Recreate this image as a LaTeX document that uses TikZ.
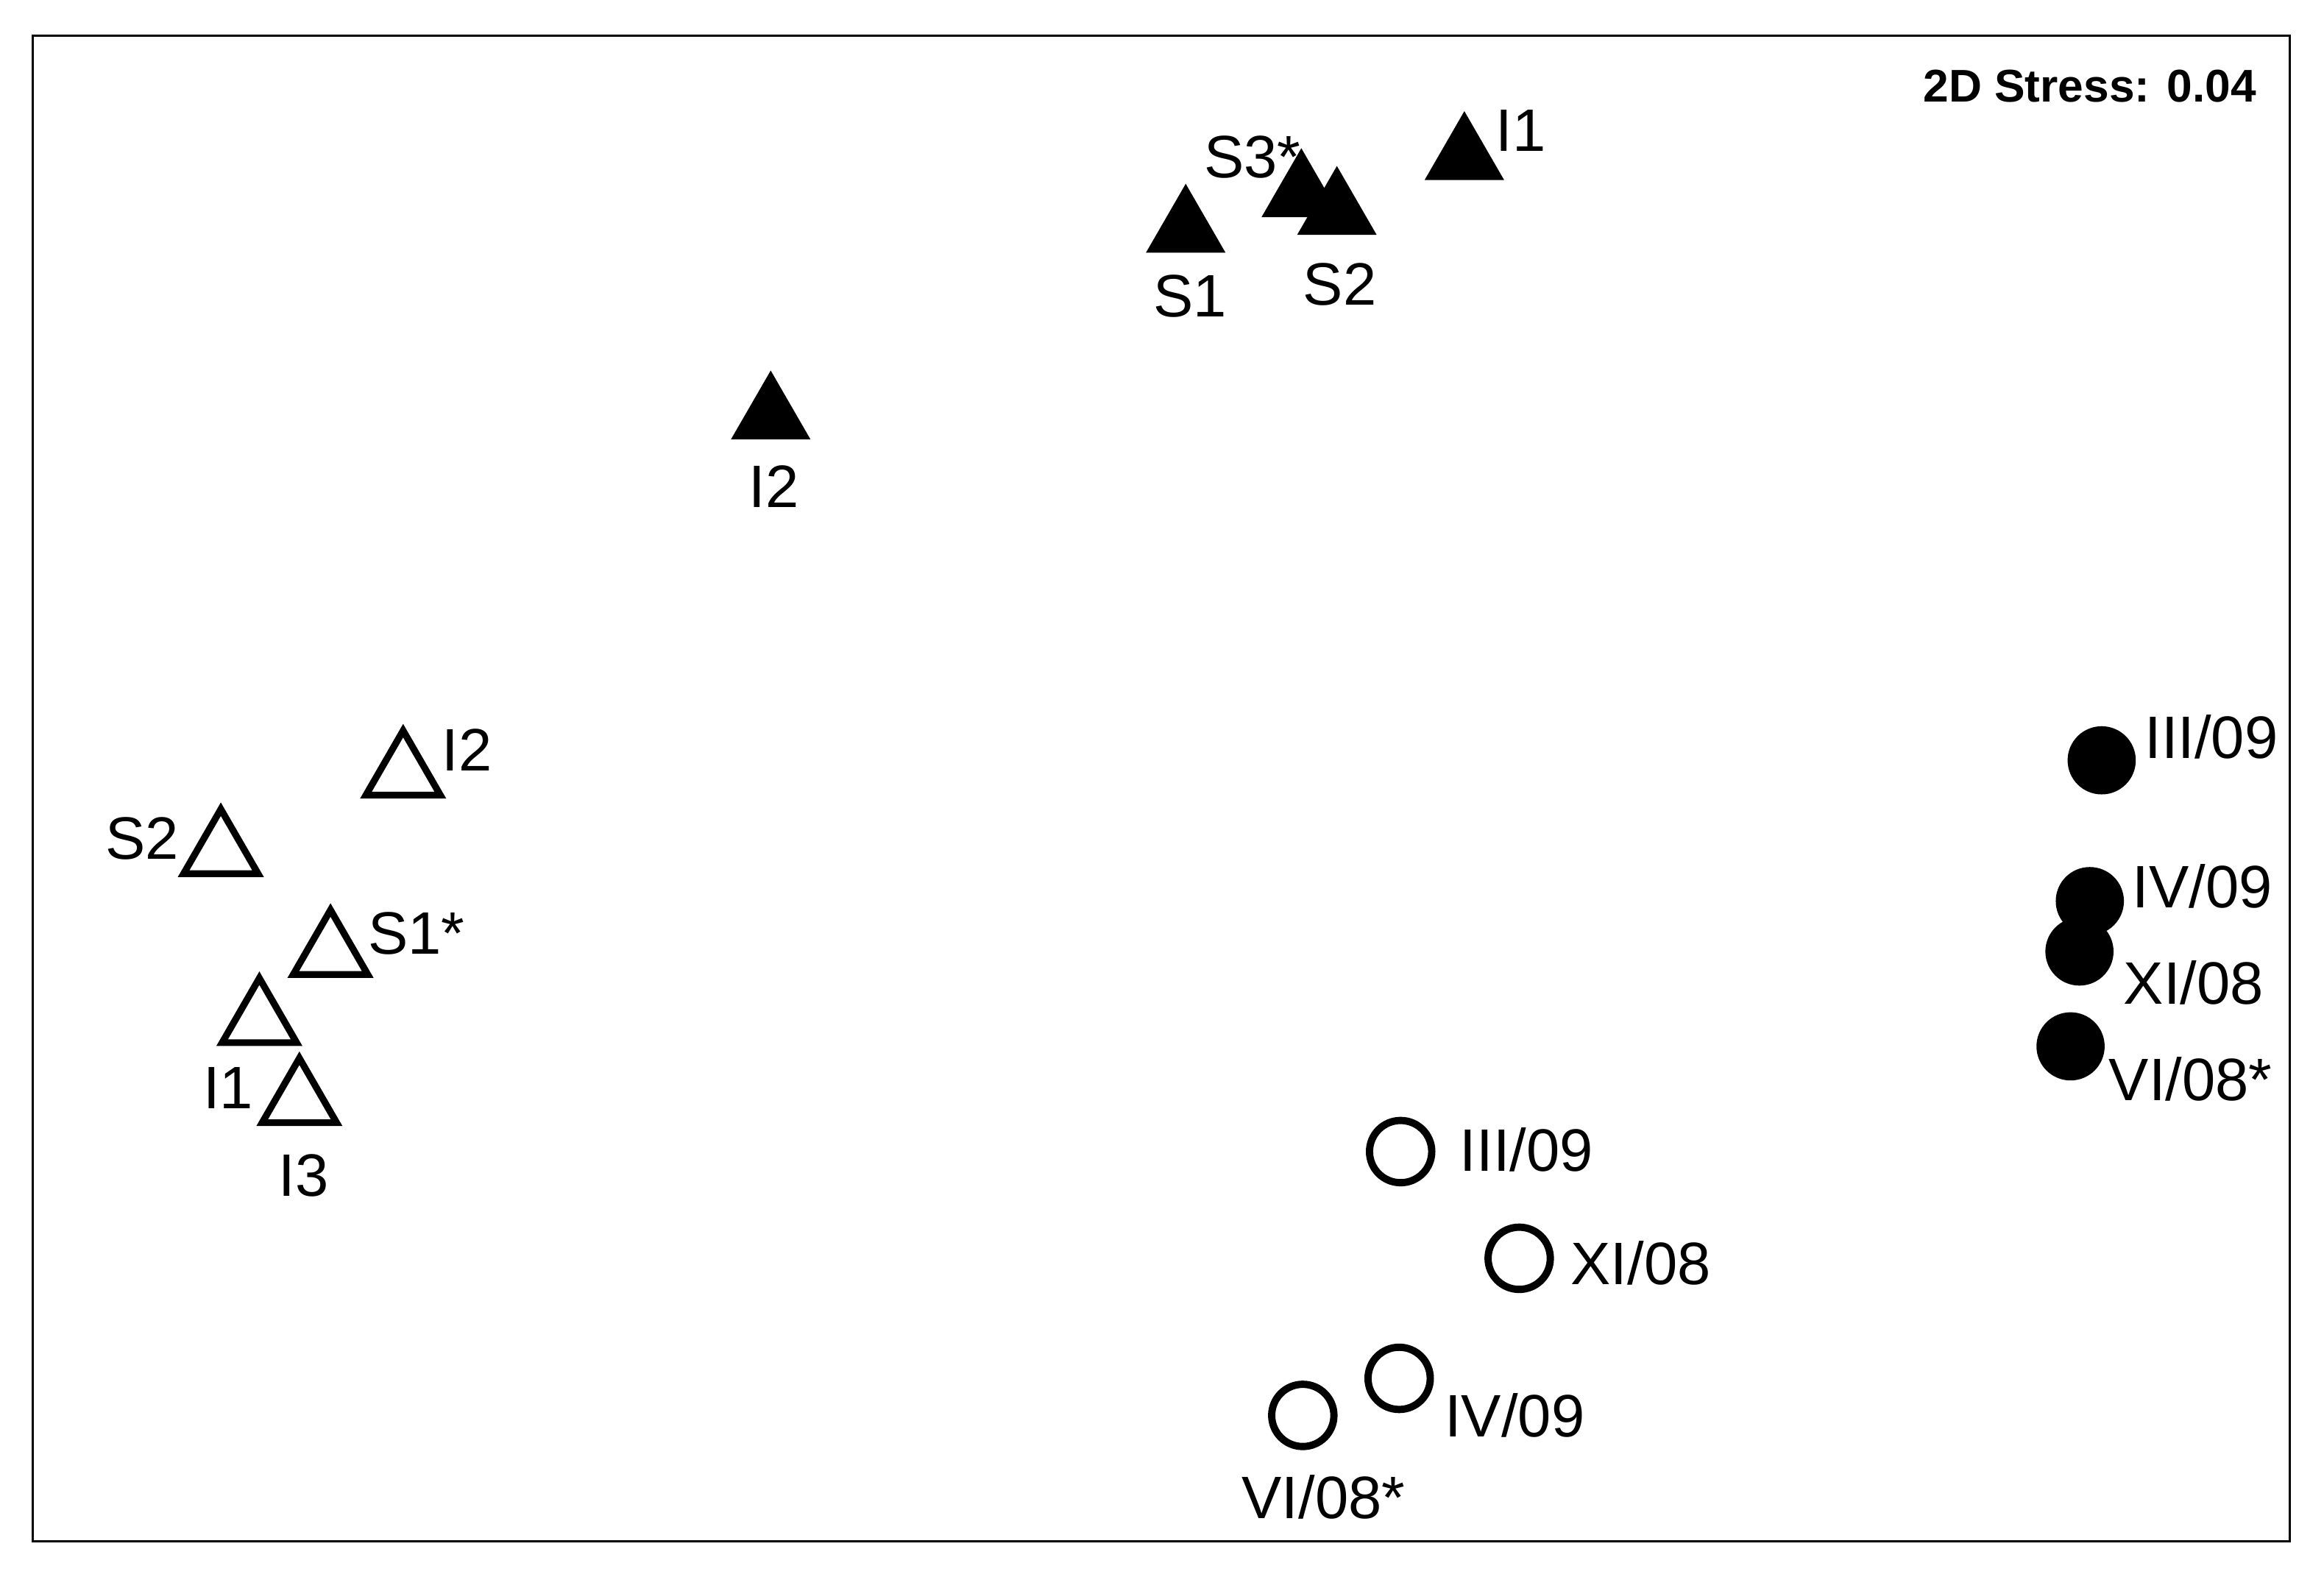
\documentclass[tikz,border=0pt]{standalone}
\usepackage{fontspec}
\setmainfont{Liberation Sans}
\usetikzlibrary{shapes.geometric}
\begin{document}
\begin{tikzpicture}[x=0.1mm,y=-0.1mm,
  ftri/.style={regular polygon,regular polygon sides=3,fill=black,minimum size=6.2mm,inner sep=0pt},
  otri/.style={regular polygon,regular polygon sides=3,draw=black,line width=1.3pt,minimum size=5.8mm,inner sep=0pt},
  fcirc/.style={circle,fill=black,minimum size=4.6mm,inner sep=0pt},
  ocirc/.style={circle,draw=black,line width=1.4pt,minimum size=4.2mm,inner sep=0pt},
  lab/.style={font=\fontsize{11.5}{13}\selectfont,inner sep=0pt}]
\useasboundingbox (0,0) rectangle (1568,1064);
\draw[line width=0.5pt] (22,24) rectangle (1545,1040);
\node[font=\bfseries\fontsize{8.8}{10}\selectfont] (stress) at (1410,58) {2D Stress: 0.04};
% filled triangles
\node[ftri] (fS1) at (800,155) {}; \node[lab] (fS1l) at (803,200) {S1};
\node[ftri] (fS3) at (878,131) {}; \node[lab] (fS3l) at (845,106) {S3*};
\node[ftri] (fS2) at (902,143) {}; \node[lab] (fS2l) at (904,192) {S2};
\node[ftri] (fI1) at (988,106) {}; \node[lab] (fI1l) at (1026,88) {I1};
\node[ftri] (fI2) at (520,281) {}; \node[lab] (fI2l) at (522,328) {I2};
% open triangles
\node[otri] (oI2) at (272,522) {}; \node[lab] (oI2l) at (315,506) {I2};
\node[otri] (oS2) at (149,575) {}; \node[lab] (oS2l) at (96,566) {S2};
\node[otri] (oS1) at (223,643) {}; \node[lab] (oS1l) at (281,630) {S1*};
\node[otri] (oI1) at (175,689) {}; \node[lab] (oI1l) at (154,734) {I1};
\node[otri] (oI3) at (202,743) {}; \node[lab] (oI3l) at (205,793) {I3};
% filled circles
\node[fcirc] (fc1) at (1418,513) {}; \node[lab] (fc1l) at (1492,497) {III/09};
\node[fcirc] (fc2) at (1410,608) {}; \node[lab] (fc2l) at (1486,598) {IV/09};
\node[fcirc] (fc3) at (1403,642) {}; \node[lab] (fc3l) at (1480,663) {XI/08};
\node[fcirc] (fc4) at (1397,706) {}; \node[lab] (fc4l) at (1478,728) {VI/08*};
% open circles
\node[ocirc] (oc1) at (945,777) {}; \node[lab] (oc1l) at (1030,776) {III/09};
\node[ocirc] (oc2) at (1025,849) {}; \node[lab] (oc2l) at (1107,852) {XI/08};
\node[ocirc] (oc3) at (944,930) {}; \node[lab] (oc3l) at (1022,955) {IV/09};
\node[ocirc] (oc4) at (879,955) {}; \node[lab] (oc4l) at (893,1010) {VI/08*};
\end{tikzpicture}
\end{document}
